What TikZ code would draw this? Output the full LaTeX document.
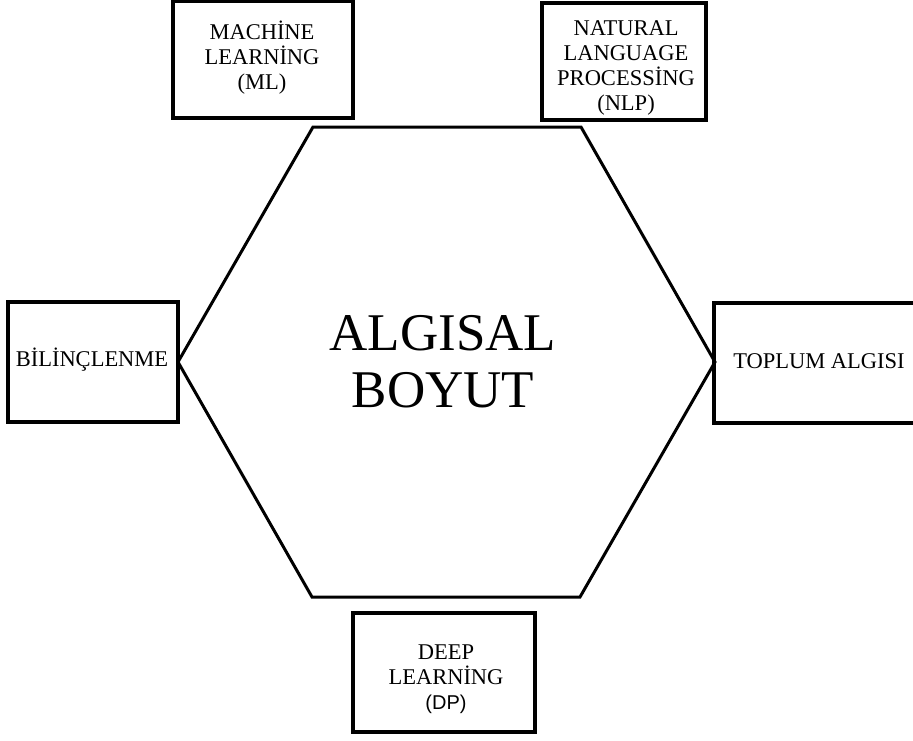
\documentclass[tikz,border=0pt]{standalone}
\usepackage{fontspec}
\setmainfont{Liberation Serif}
\newfontfamily\arialfont{Liberation Sans}
\begin{document}
\begin{tikzpicture}[x=1pt,y=-1pt,
  boxnode/.style={draw=black,line width=3.2pt,rectangle,inner sep=0pt},
  boxtext/.style={align=center,inner sep=0pt,font=\fontsize{22.5}{25}\selectfont},
  hexline/.style={draw=black,line width=3pt,line join=miter}]
\useasboundingbox[fill=white] (0,0) rectangle (913,740);
% hexagon vertices
\coordinate (h1) at (313,127);
\coordinate (h2) at (581,127);
\coordinate (h3) at (715,362);
\coordinate (h4) at (580,597);
\coordinate (h5) at (312,597);
\coordinate (h6) at (178,362);
\draw[hexline] (h1) -- (h2) -- (h3) -- (h4) -- (h5) -- (h6) -- cycle;
\node[align=center,font=\fontsize{53}{57}\selectfont] (center) at (443,362) {ALGISAL\\BOYUT};
% boxes
\node[boxnode,minimum width=180,minimum height=117] (ml) at (263,59.5) {};
\node[boxnode,minimum width=164,minimum height=117] (nlp) at (624,61.5) {};
\node[boxnode,minimum width=170,minimum height=120] (bil) at (93,362) {};
\node[boxnode,minimum width=212,minimum height=120] (top) at (820,363) {};
\node[boxnode,minimum width=182,minimum height=119] (dp) at (444,672.5) {};
% texts
\node[boxtext] (mlt) at (262,58) {MACHİNE\\LEARNİNG\\(ML)};
\node[boxtext] (nlpt) at (626,68) {NATURAL\\LANGUAGE\\PROCESSİNG\\(NLP)};
\node[boxtext] (bilt) at (92,360) {BİLİNÇLENME};
\node[boxtext] (topt) at (819,361) {TOPLUM ALGISI};
\node[boxtext] (dpt) at (446,679) {DEEP\\LEARNİNG\\{\arialfont\fontsize{20}{25}\selectfont (DP)}};
\end{tikzpicture}
\end{document}
